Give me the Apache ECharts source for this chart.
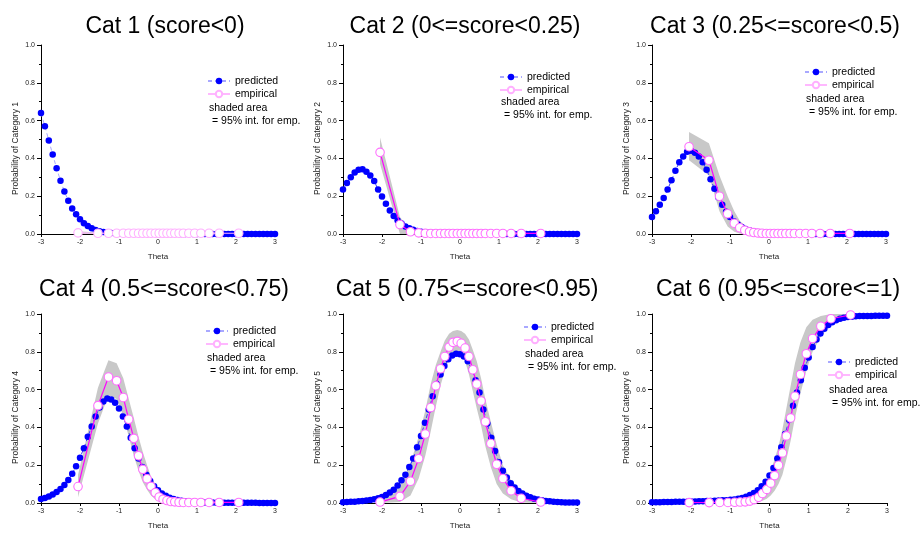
<!DOCTYPE html>
<html><head><meta charset="utf-8">
<script src="https://cdn.jsdelivr.net/npm/echarts@6/dist/echarts.min.js"></script>
<style>html,body{margin:0;padding:0;background:#fff}#c{width:923px;height:535px}</style>
</head><body><div id="c"></div>
<script>
// ---------- data ----------
const theta = [-3.0,-2.9,-2.8,-2.7,-2.6,-2.5,-2.4,-2.3,-2.2,-2.1,-2.0,-1.9,-1.8,-1.7,-1.6,-1.5,-1.4,-1.3,-1.2,-1.1,-1.0,-0.9,-0.8,-0.7,-0.6,-0.5,-0.4,-0.3,-0.2,-0.1,0.0,0.1,0.2,0.3,0.4,0.5,0.6,0.7,0.8,0.9,1.0,1.1,1.2,1.3,1.4,1.5,1.6,1.7,1.8,1.9,2.0,2.1,2.2,2.3,2.4,2.5,2.6,2.7,2.8,2.9,3.0];
const empTheta = [-2.05,-1.54,-1.27,-1.06,-0.89,-0.75,-0.62,-0.50,-0.39,-0.28,-0.18,-0.07,0.03,0.13,0.23,0.33,0.43,0.54,0.65,0.79,0.94,1.10,1.31,1.57,2.07];

const titles = ["Cat 1 (score<0)","Cat 2 (0<=score<0.25)","Cat 3 (0.25<=score<0.5)","Cat 4 (0.5<=score<0.75)","Cat 5 (0.75<=score<0.95)","Cat 6 (0.95<=score<=1)"];
const yNames = ["Probability of Category 1","Probability of Category 2","Probability of Category 3","Probability of Category 4","Probability of Category 5","Probability of Category 6"];
const xName = "Theta";
const legendNames = ["predicted","empirical"];
const noteLines = ["shaded area","= 95% int. for emp."];

const pred1 = [0.64,0.57,0.495,0.42,0.348,0.282,0.225,0.176,0.135,0.104,0.078,0.057,0.042,0.03,0.021,0.015,0.01,0.007,0.005,0.004,0.003,0.002,0.002,0.001,0.001,0.001,0.001,0.001,0.001,0.001,0.001,0.001,0.001,0.001,0.001,0.001,0,0,0,0,0,0,0,0,0,0,0,0,0,0,0,0,0,0,0,0,0,0,0,0,0];
const pred2 = [0.235,0.27,0.30,0.325,0.34,0.342,0.33,0.31,0.28,0.235,0.198,0.16,0.125,0.095,0.072,0.055,0.04,0.03,0.022,0.016,0.012,0.009,0.006,0.005,0.004,0.003,0.002,0.002,0.001,0.001,0.001,0.001,0.001,0.001,0.001,0.001,0.001,0.001,0.001,0.001,0.001,0,0,0,0,0,0,0,0,0,0,0,0,0,0,0,0,0,0,0,0];
const pred3 = [0.09,0.12,0.155,0.19,0.235,0.285,0.335,0.38,0.41,0.435,0.44,0.43,0.41,0.38,0.34,0.29,0.24,0.195,0.155,0.118,0.09,0.068,0.05,0.037,0.027,0.02,0.014,0.01,0.007,0.005,0.004,0.003,0.002,0.002,0.001,0.001,0.001,0.001,0.001,0.001,0.001,0,0,0,0,0,0,0,0,0,0,0,0,0,0,0,0,0,0,0,0];
const pred4 = [0.021,0.027,0.035,0.045,0.058,0.074,0.095,0.122,0.155,0.195,0.24,0.29,0.35,0.405,0.458,0.505,0.537,0.553,0.548,0.53,0.50,0.458,0.405,0.345,0.29,0.235,0.19,0.15,0.116,0.088,0.067,0.05,0.038,0.028,0.021,0.016,0.012,0.009,0.007,0.005,0.004,0.003,0.003,0.002,0.002,0.001,0.001,0.001,0.001,0.001,0.001,0.001,0.001,0.001,0.001,0.001,0,0,0,0,0];
const pred5 = [0.004,0.005,0.006,0.007,0.009,0.011,0.013,0.016,0.02,0.025,0.032,0.042,0.055,0.07,0.092,0.12,0.15,0.19,0.235,0.295,0.355,0.425,0.495,0.565,0.63,0.68,0.725,0.76,0.78,0.79,0.787,0.775,0.75,0.705,0.65,0.585,0.495,0.42,0.345,0.275,0.215,0.17,0.135,0.105,0.082,0.064,0.05,0.039,0.03,0.023,0.018,0.014,0.011,0.009,0.007,0.005,0.004,0.003,0.003,0.002,0.002];
const pred6 = [0.004,0.004,0.004,0.005,0.005,0.005,0.006,0.006,0.007,0.007,0.008,0.008,0.009,0.009,0.01,0.011,0.012,0.013,0.014,0.015,0.017,0.019,0.022,0.027,0.033,0.042,0.053,0.067,0.088,0.113,0.145,0.185,0.235,0.295,0.365,0.44,0.515,0.585,0.65,0.715,0.77,0.825,0.865,0.897,0.922,0.942,0.956,0.967,0.975,0.98,0.984,0.986,0.988,0.989,0.99,0.99,0.99,0.991,0.991,0.991,0.991];

const emp1 = [0.006,0.004,0.004,0.004,0.004,0.004,0.004,0.004,0.004,0.004,0.004,0.004,0.004,0.004,0.004,0.004,0.004,0.004,0.004,0.004,0.004,0.004,0.004,0.004,0.004];
const emp2 = [0.432,0.05,0.012,0.006,0.004,0.003,0.003,0.003,0.003,0.003,0.003,0.003,0.003,0.003,0.003,0.003,0.003,0.003,0.003,0.003,0.003,0.003,0.003,0.003,0.003];
const emp3 = [0.462,0.39,0.20,0.107,0.057,0.033,0.02,0.012,0.008,0.005,0.004,0.003,0.003,0.003,0.003,0.003,0.003,0.003,0.003,0.003,0.003,0.003,0.003,0.003,0.003];
const emp4 = [0.087,0.515,0.667,0.647,0.558,0.443,0.342,0.25,0.178,0.128,0.088,0.055,0.032,0.02,0.013,0.008,0.006,0.004,0.003,0.003,0.003,0.003,0.003,0.003,0.003];
const emp5 = [0.005,0.035,0.115,0.235,0.365,0.505,0.62,0.71,0.775,0.825,0.85,0.855,0.845,0.82,0.775,0.705,0.63,0.54,0.43,0.315,0.205,0.13,0.065,0.025,0.005];
const emp6 = [0.002,0.002,0.003,0.003,0.004,0.005,0.006,0.01,0.018,0.03,0.05,0.072,0.105,0.145,0.2,0.265,0.355,0.45,0.565,0.68,0.79,0.87,0.935,0.975,0.995];

const lo1 = [0,0,0,0,0,0,0,0,0,0,0,0,0,0,0,0,0,0,0,0,0,0,0,0,0];
const hi1 = [0.015,0.008,0.005,0.004,0.003,0.003,0.003,0.003,0.003,0.003,0.003,0.003,0.003,0.003,0.003,0.003,0.003,0.003,0.003,0.003,0.003,0.003,0.003,0.003,0.003];
const lo2 = [0.37,0.0,0,0,0,0,0,0,0,0,0,0,0,0,0,0,0,0,0,0,0,0,0,0,0];
const hi2 = [0.51,0.09,0.02,0.01,0.007,0.006,0.005,0.005,0.005,0.005,0.005,0.005,0.005,0.005,0.005,0.005,0.005,0.005,0.005,0.005,0.005,0.005,0.005,0.005,0.005];
const lo3 = [0.39,0.31,0.12,0.04,0.012,0.003,0,0,0,0,0,0,0,0,0,0,0,0,0,0,0,0,0,0,0];
const hi3 = [0.54,0.48,0.31,0.20,0.12,0.07,0.045,0.028,0.017,0.011,0.008,0.007,0.006,0.006,0.006,0.006,0.006,0.006,0.006,0.006,0.006,0.006,0.006,0.006,0.006];
const lo4 = [0.03,0.42,0.57,0.55,0.46,0.35,0.25,0.17,0.11,0.07,0.04,0.02,0.01,0.005,0.002,0,0,0,0,0,0,0,0,0,0];
const hi4 = [0.15,0.61,0.755,0.74,0.66,0.55,0.45,0.35,0.27,0.20,0.14,0.10,0.07,0.045,0.03,0.02,0.014,0.01,0.008,0.007,0.006,0.006,0.006,0.006,0.006];
const lo5 = [0,0.005,0.04,0.13,0.25,0.38,0.51,0.62,0.70,0.76,0.78,0.79,0.78,0.75,0.68,0.59,0.50,0.41,0.30,0.19,0.10,0.05,0.02,0.003,0];
const hi5 = [0.035,0.09,0.21,0.35,0.49,0.63,0.73,0.80,0.86,0.895,0.91,0.915,0.91,0.895,0.865,0.81,0.75,0.66,0.55,0.43,0.31,0.20,0.12,0.065,0.025];
const lo6 = [0,0,0,0,0,0,0,0,0.002,0.006,0.012,0.022,0.04,0.065,0.1,0.15,0.23,0.33,0.45,0.58,0.70,0.80,0.88,0.945,0.985];
const hi6 = [0.01,0.012,0.014,0.016,0.018,0.02,0.025,0.03,0.04,0.06,0.09,0.125,0.17,0.23,0.30,0.39,0.50,0.62,0.74,0.85,0.93,0.97,0.99,1.0,1.0];

const preds = [pred1,pred2,pred3,pred4,pred5,pred6];
const emps = [emp1,emp2,emp3,emp4,emp5,emp6];
const los = [lo1,lo2,lo3,lo4,lo5,lo6];
const his = [hi1,hi2,hi3,hi4,hi5,hi6];

// ---------- layout ----------
const FONT = "'Liberation Sans', Arial, sans-serif";
const panels = [
  {l:41, t:45, w:234, h:189, tx:160, ty:10, lx:207, ly:81, ny:108},
  {l:343,t:45, w:234, h:189, tx:460, ty:10, lx:499, ly:77, ny:102},
  {l:652,t:45, w:234, h:189, tx:770, ty:10, lx:804, ly:72, ny:99},
  {l:41, t:314,w:234, h:189, tx:159, ty:273,lx:205, ly:331,ny:358},
  {l:343,t:314,w:234, h:189, tx:462, ty:273,lx:523, ly:327,ny:354},
  {l:652,t:314,w:235, h:189, tx:773, ty:273,lx:827, ly:362,ny:390}
];

const grid=[],xAxis=[],yAxis=[],series=[],title=[],legend=[],graphic=[];
panels.forEach((p,i)=>{
  grid.push({left:p.l, top:p.t, width:p.w, height:p.h, containLabel:false});
  title.push({text:titles[i], left:p.tx, top:p.ty, textAlign:'center',
    textStyle:{fontFamily:FONT, fontSize:23, fontWeight:'normal', color:'#000'}});
  xAxis.push({gridIndex:i, type:'value', min:-3, max:3, interval:1,
    name:xName, nameLocation:'middle', nameGap:19,
    nameTextStyle:{fontFamily:FONT, fontSize:8, color:'#222'},
    axisLine:{show:true, onZero:false, lineStyle:{color:'#000', width:1}},
    axisTick:{show:true, length:3, lineStyle:{color:'#000'}},
    axisLabel:{fontFamily:FONT, fontSize:7, color:'#222', margin:5},
    splitLine:{show:false}});
  yAxis.push({gridIndex:i, type:'value', min:0, max:1, interval:0.2,
    name:yNames[i], nameLocation:'middle', nameGap:21,
    nameTextStyle:{fontFamily:FONT, fontSize:8.5, color:'#222', padding:[0,18,0,0]},
    axisLine:{show:true, onZero:false, lineStyle:{color:'#000', width:1}},
    axisTick:{show:true, length:4, lineStyle:{color:'#000'}},
    minorTick:{show:true, splitNumber:2, length:2, lineStyle:{color:'#000'}},
    axisLabel:{fontFamily:FONT, fontSize:7, color:'#222', margin:6, formatter:v=>v.toFixed(1)},
    splitLine:{show:false}});
  const light = i===0;
  const lo = los[i], hi = his[i];
  series.push({type:'custom', xAxisIndex:i, yAxisIndex:i, silent:true, z:1,
    data: empTheta.map((x,k)=>[x, lo[k], hi[k]]),
    renderItem:(params, api)=>{
      if (params.dataIndex !== 0) return null;
      const pts = [];
      for (let k=0;k<empTheta.length;k++) pts.push(api.coord([empTheta[k], hi[k]]));
      for (let k=empTheta.length-1;k>=0;k--) pts.push(api.coord([empTheta[k], lo[k]]));
      return {type:'polygon', shape:{points:pts}, style:{fill:'#c8c8c8'}};
    }});
  series.push({name:legendNames[0], type:'line', xAxisIndex:i, yAxisIndex:i, z:2,
    data: theta.map((x,k)=>[x, preds[i][k]]), symbol:'circle', symbolSize:6.5,
    itemStyle:{color:'#0000ff'},
    lineStyle:{color: light ? '#a8a8ff' : '#3a3aff', width:1, type:[4,3]}});
  series.push({name:legendNames[1], type:'line', xAxisIndex:i, yAxisIndex:i, z:3,
    data: empTheta.map((x,k)=>[x, emps[i][k]]), symbol:'circle', symbolSize:8.5,
    itemStyle:{color:'#ffffff', borderColor: light ? '#ffb0ff' : '#ff70ff', borderWidth:1.1},
    lineStyle:{color: light ? '#ffb8ff' : '#ff00ff', width:1.2}});
  legend.push({orient:'vertical', left:p.lx, top:p.ly-6.5, padding:0, itemGap:0,
    itemWidth:22, itemHeight:8, selectedMode:false, data:legendNames,
    textStyle:{fontFamily:FONT, fontSize:10.5, lineHeight:13, color:'#000'}});
  graphic.push({type:'text', x:p.lx+2, y:p.ny, style:{text:noteLines[0], fontFamily:FONT, fontSize:10.5, fill:'#000', verticalAlign:'middle'}});
  graphic.push({type:'text', x:p.lx+5, y:p.ny+13, style:{text:noteLines[1], fontFamily:FONT, fontSize:10.5, fill:'#000', verticalAlign:'middle'}});
});

const chart = echarts.init(document.getElementById('c'), null, {renderer:'canvas'});
chart.setOption({animation:false, backgroundColor:'#fff', title, grid, xAxis, yAxis, legend, graphic, series});
</script>
</body></html>
